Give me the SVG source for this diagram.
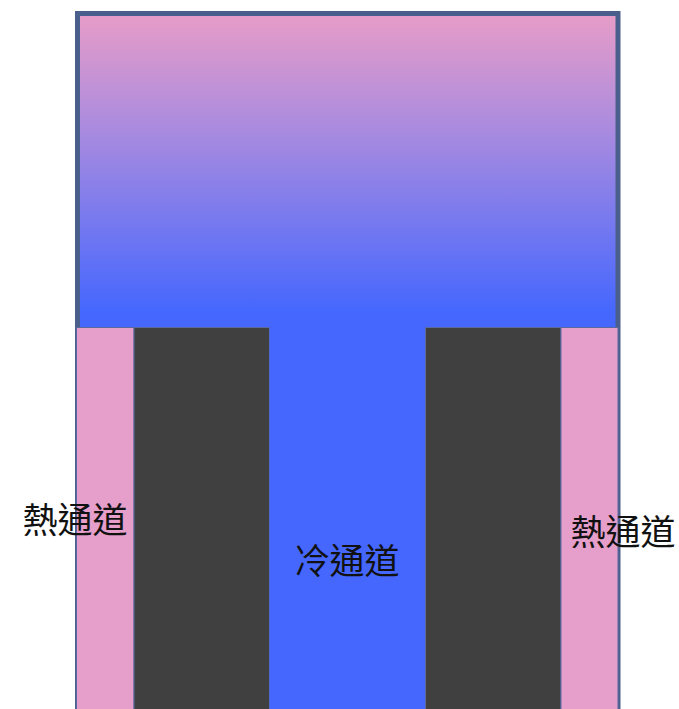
<svg xmlns="http://www.w3.org/2000/svg" width="679" height="709" viewBox="0 0 679 709">
<defs>
<linearGradient id="g" gradientUnits="userSpaceOnUse" x1="0" y1="16" x2="0" y2="312">
<stop offset="0" stop-color="#e69cc8"/>
<stop offset="0.4" stop-color="#a78ae0"/>
<stop offset="1" stop-color="#4567fe"/>
</linearGradient>
</defs>
<style>
.lbl{font-family:"Noto Sans CJK TC","Noto Sans CJK SC",sans-serif;font-size:35px;fill:#111;text-anchor:middle;dominant-baseline:central}
.rk{stroke:#5a6aa0;stroke-width:1}
</style>
<g id="frame">
<rect x="77.5" y="13.5" width="540.5" height="720" fill="url(#g)" stroke="#4a5f8c" stroke-width="5"/>
</g>
<g id="hot-left"><rect class="rk" x="76.5" y="327.5" width="57.5" height="390" fill="#e69ecb"/></g>
<g id="rack-left"><rect class="rk" x="134" y="327.5" width="135.5" height="390" fill="#404040"/></g>
<g id="cold"><rect x="269.5" y="327.5" width="156" height="390" fill="#4567fe"/></g>
<g id="rack-right"><rect class="rk" x="425.5" y="327.5" width="135.5" height="390" fill="#404040"/></g>
<g id="hot-right"><rect class="rk" x="561" y="327.5" width="57" height="390" fill="#e69ecb"/></g>
<g id="labels">
<text class="lbl" x="75" y="517">熱通道</text>
<text class="lbl" x="347" y="558">冷通道</text>
<text class="lbl" x="623" y="529">熱通道</text>
</g>
</svg>
